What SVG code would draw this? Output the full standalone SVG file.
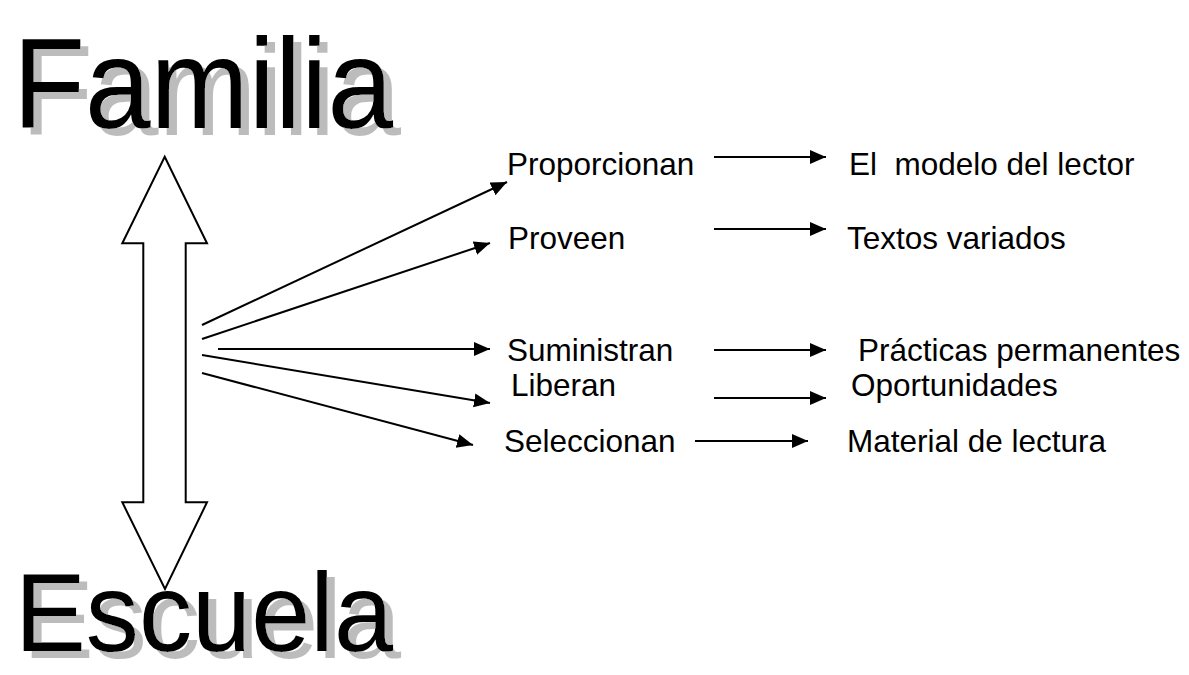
<svg xmlns="http://www.w3.org/2000/svg" width="1189" height="675" viewBox="0 0 1189 675">
<style>
  .title { font-family: "Liberation Sans", Arial, sans-serif; fill: #000; filter: url(#shadow); }
  .lbl { font-family: "Liberation Sans", Arial, sans-serif; font-size: 31.5px; fill: #000; }
  .con { stroke: #000; stroke-width: 2; fill: none; marker-end: url(#ah); }
  .big { fill: #fff; stroke: #000; stroke-width: 2; stroke-linejoin: miter; }
</style>
<defs>
  <marker id="ah" markerUnits="userSpaceOnUse" markerWidth="17" markerHeight="15" refX="16" refY="7" orient="auto">
    <path d="M0,0 L16,7 L0,14 z" fill="#000"/>
  </marker>
  <filter id="shadow" x="-5%" y="-10%" width="115%" height="130%">
    <feOffset in="SourceAlpha" dx="8" dy="7" result="off"/>
    <feFlood flood-color="#bcbcbc"/>
    <feComposite in2="off" operator="in" result="sh"/>
    <feMerge>
      <feMergeNode in="sh"/>
      <feMergeNode in="SourceGraphic"/>
    </feMerge>
  </filter>
</defs>
<rect width="1189" height="675" fill="#fff"/>

<g id="familia">
  <text class="title" x="13" y="128" font-size="128" textLength="380" lengthAdjust="spacingAndGlyphs">Familia</text>
</g>

<g id="escuela">
  <text class="title" x="15" y="651" font-size="112" textLength="378" lengthAdjust="spacingAndGlyphs">Escuela</text>
</g>

<g id="double-arrow">
  <polygon class="big" points="164.7,156.7 207,243.3 185.7,243.3 185.7,502.3 207,502.3 165,589 122.3,502.3 143.3,502.3 143.3,243.3 122.3,243.3"/>
</g>

<g id="connectors">
  <line class="con" x1="202" y1="325" x2="507" y2="182"/>
  <line class="con" x1="202" y1="339" x2="490" y2="243"/>
  <line class="con" x1="218" y1="349" x2="490" y2="349"/>
  <line class="con" x1="202" y1="355" x2="490" y2="403"/>
  <line class="con" x1="202" y1="373" x2="473" y2="445"/>
  <line class="con" x1="714" y1="157" x2="826" y2="157"/>
  <line class="con" x1="714" y1="229" x2="826" y2="229"/>
  <line class="con" x1="714" y1="350" x2="826" y2="350"/>
  <line class="con" x1="714" y1="398" x2="826" y2="398"/>
  <line class="con" x1="695" y1="441" x2="808" y2="441"/>
</g>

<g id="proporcionan"><text class="lbl" x="507" y="175">Proporcionan</text></g>
<g id="proveen"><text class="lbl" x="508" y="249">Proveen</text></g>
<g id="suministran"><text class="lbl" x="507" y="361">Suministran</text></g>
<g id="liberan"><text class="lbl" x="511" y="396">Liberan</text></g>
<g id="seleccionan"><text class="lbl" x="504" y="452">Seleccionan</text></g>

<g id="modelo"><text class="lbl" x="849" y="175">El&#160; modelo del lector</text></g>
<g id="textos"><text class="lbl" x="847" y="249">Textos variados</text></g>
<g id="practicas"><text class="lbl" x="858" y="361">Prácticas permanentes</text></g>
<g id="oportunidades"><text class="lbl" x="851" y="396">Oportunidades</text></g>
<g id="material"><text class="lbl" x="847" y="452">Material de lectura</text></g>
</svg>
